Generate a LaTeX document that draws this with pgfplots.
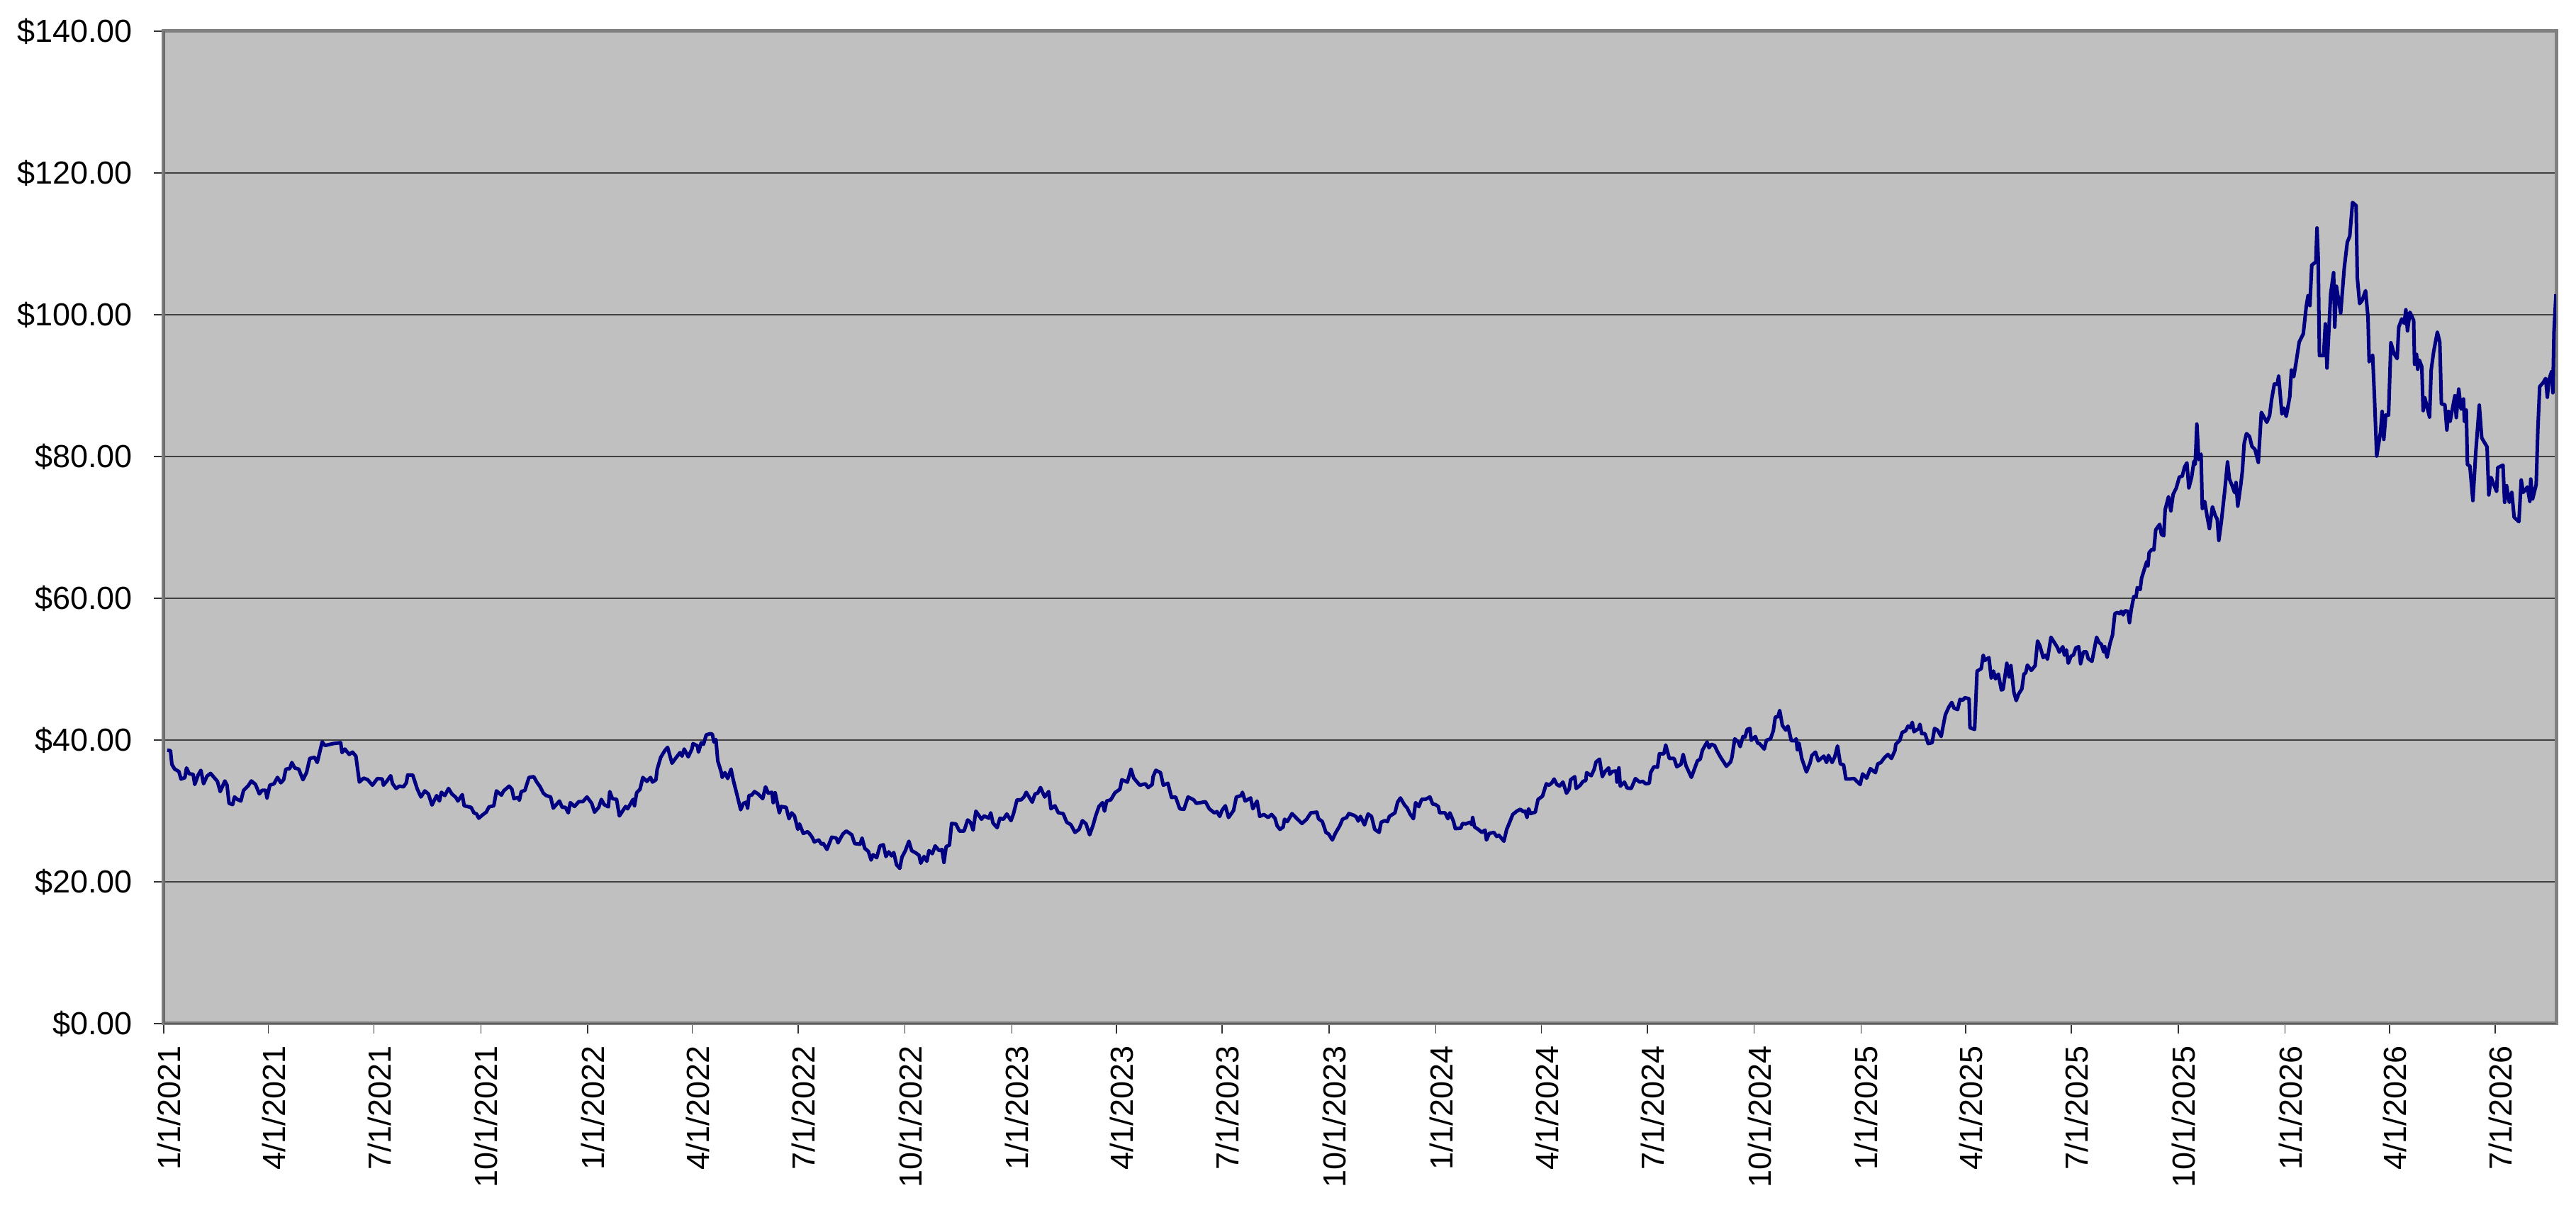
\documentclass[border=0pt]{standalone}
\usepackage{pgfplots}
\pgfplotsset{compat=1.18}
\usepackage{pgfplotstable}
\usepackage{fontspec}
\setmainfont{Liberation Sans}
\definecolor{plotbg}{HTML}{C0C0C0}
\definecolor{navyline}{HTML}{000080}
\pgfplotstableread{
day price
3.0 38.57
5.8 38.50
7.0 36.57
9.4 35.90
13.0 35.57
14.9 34.50
18.2 34.70
19.6 36.07
22.0 35.23
25.3 35.17
26.7 33.73
29.6 35.07
32.0 35.73
34.3 33.83
37.2 34.90
40.3 35.30
43.8 34.63
46.2 34.17
48.6 32.73
52.6 34.23
54.5 33.63
56.2 31.07
59.3 30.90
60.9 31.97
63.3 31.63
66.4 31.40
68.7 32.90
72.8 33.57
75.4 34.23
79.0 33.73
82.3 32.40
84.6 32.90
87.7 32.90
88.9 31.83
91.3 33.63
94.9 33.83
97.9 34.73
100.8 33.97
103.2 34.40
105.1 35.90
108.4 35.97
110.3 36.83
112.7 36.07
116.2 35.90
119.8 34.40
122.9 35.40
125.7 37.40
129.8 37.57
132.1 36.83
136.4 39.73
138.8 39.23
145.9 39.50
152.3 39.63
153.5 38.23
155.9 38.73
159.7 37.97
162.5 38.30
165.4 37.73
168.4 34.07
172.0 34.63
175.6 34.40
179.6 33.63
183.9 34.57
188.1 34.50
189.1 33.63
192.2 34.23
195.3 34.97
197.0 33.83
200.0 33.17
202.9 33.50
206.4 33.40
208.8 33.97
210.0 35.07
214.3 35.07
218.3 33.07
221.4 31.97
224.7 32.83
227.8 32.40
230.9 30.83
234.9 32.17
237.3 31.40
239.0 32.63
242.0 32.17
245.1 33.17
248.0 32.40
251.5 31.90
253.2 31.40
257.0 32.30
258.6 30.73
264.6 30.50
267.0 29.73
269.3 29.57
271.2 28.97
274.1 29.40
277.6 29.83
280.0 30.57
284.1 30.73
286.4 32.83
290.7 32.23
292.6 32.83
297.3 33.50
299.7 33.07
301.4 31.73
305.0 31.90
306.1 31.50
307.8 32.73
310.9 32.90
314.4 34.73
318.5 34.83
321.1 34.07
324.0 33.40
326.8 32.50
329.2 32.17
333.0 31.97
335.3 30.40
340.6 31.40
343.0 30.50
345.8 30.50
348.2 29.73
350.0 31.17
353.6 30.63
357.2 31.30
360.7 31.30
364.3 31.97
368.4 31.07
370.8 29.83
374.4 30.50
376.7 31.63
379.1 30.90
382.7 30.57
383.9 32.73
386.2 31.73
389.8 31.63
392.2 29.30
397.6 30.63
399.3 30.30
404.0 31.63
405.2 30.73
407.1 32.57
410.0 33.07
412.4 34.73
415.9 34.17
419.0 34.73
420.7 34.07
423.7 34.40
424.7 35.83
427.8 37.57
431.3 38.50
433.7 38.97
437.5 36.73
439.7 37.23
444.4 38.23
446.1 37.73
448.0 38.73
451.5 37.63
454.6 38.73
455.6 39.50
459.4 39.17
460.3 38.30
462.7 39.63
464.6 39.40
467.0 40.73
470.5 40.90
472.2 40.83
473.6 39.73
475.3 40.07
476.9 37.07
480.0 35.40
480.7 34.73
483.1 35.40
485.5 34.57
488.3 35.90
490.2 34.40
494.3 31.73
496.6 30.17
499.0 31.07
501.4 31.23
502.6 30.40
503.7 32.17
506.1 32.23
508.5 32.73
511.6 32.40
515.6 31.73
518.0 33.40
520.4 32.50
523.5 32.63
524.6 31.17
526.3 32.57
529.9 29.73
531.5 30.63
535.8 30.50
538.2 28.90
540.5 29.73
542.9 29.30
545.8 27.40
547.2 28.17
550.5 26.83
554.3 27.07
556.7 26.63
558.3 26.23
560.0 25.63
563.8 25.90
566.2 25.30
567.8 25.40
570.9 24.57
575.0 26.30
579.0 26.17
580.4 25.50
584.5 26.73
587.5 27.17
592.3 26.63
594.7 25.40
599.4 25.30
601.1 26.17
603.4 24.73
606.5 24.30
608.9 23.07
610.6 23.83
613.7 23.40
616.5 25.07
619.4 25.23
621.7 23.57
624.1 24.23
626.5 23.67
628.4 24.13
630.8 22.40
633.6 21.90
635.5 23.50
638.4 24.40
641.4 25.73
643.8 24.40
647.4 24.07
650.2 23.73
651.6 22.63
654.5 23.57
656.9 22.90
658.7 24.40
661.6 23.97
664.0 25.07
667.5 24.40
669.9 24.57
671.6 22.73
673.5 24.97
676.3 25.17
678.2 28.23
681.8 28.17
684.9 27.17
688.9 27.17
692.0 28.73
694.4 28.40
696.7 27.30
699.1 29.97
703.9 28.83
706.2 29.30
710.3 28.97
711.9 29.73
713.8 28.30
717.4 27.63
719.8 28.97
722.8 28.83
725.7 29.57
729.3 28.63
731.4 29.57
734.5 31.57
738.1 31.57
740.5 31.97
742.4 32.63
747.6 31.23
750.0 32.40
752.3 32.50
754.7 33.30
758.3 31.97
761.8 32.73
763.7 30.30
767.1 30.73
770.1 29.73
774.2 29.63
777.3 28.40
780.8 28.07
784.4 26.97
787.9 27.40
790.8 28.63
793.9 28.17
797.0 26.63
799.8 27.90
802.2 29.30
805.0 30.63
808.1 31.17
809.8 29.97
811.7 31.40
815.2 31.57
818.8 32.57
823.1 33.07
824.7 34.40
829.5 34.07
832.6 35.90
835.0 34.63
840.2 33.63
845.0 33.83
847.3 33.30
850.9 33.73
851.6 34.83
854.0 35.73
858.0 35.40
860.4 33.63
864.4 33.90
867.5 31.90
871.0 31.97
874.6 30.30
878.2 30.23
881.7 31.97
886.5 31.57
888.8 31.07
892.4 31.17
896.7 31.30
900.0 30.30
904.3 29.73
906.6 29.90
909.0 29.23
910.9 30.07
913.8 30.73
916.6 29.07
920.9 30.07
923.3 31.97
927.5 32.17
928.5 32.63
930.9 31.40
935.6 31.83
937.5 30.30
941.1 31.40
943.4 29.23
947.0 29.50
950.6 29.07
953.6 29.50
956.5 28.97
958.4 27.90
960.8 27.40
963.6 27.73
964.8 28.83
967.2 28.50
971.2 29.63
975.5 28.90
979.8 28.23
983.8 28.83
987.4 29.73
992.6 29.83
994.0 28.90
997.3 28.50
1000.4 26.97
1002.8 26.73
1005.9 25.90
1008.7 26.90
1012.3 27.90
1014.7 28.83
1018.2 29.07
1020.1 29.63
1024.2 29.40
1026.5 29.17
1028.2 28.57
1030.1 29.23
1033.6 28.03
1036.7 29.57
1039.6 29.23
1042.4 27.40
1046.2 26.97
1047.9 28.40
1051.0 28.63
1053.4 28.50
1055.0 29.23
1059.8 29.73
1062.1 31.23
1064.5 31.83
1068.1 30.83
1070.4 30.40
1072.8 29.57
1075.7 28.90
1077.6 31.17
1080.4 30.60
1082.8 31.63
1085.9 31.63
1089.9 31.97
1092.3 30.97
1094.7 30.90
1097.1 30.63
1098.3 29.73
1103.0 29.73
1105.4 28.90
1107.1 29.73
1110.1 28.57
1111.8 27.50
1116.5 27.57
1118.0 28.23
1120.8 28.17
1124.4 28.40
1126.0 28.07
1126.7 29.07
1128.4 27.73
1131.5 27.40
1134.6 26.97
1137.4 27.30
1138.6 25.90
1141.0 26.83
1145.0 26.97
1147.4 26.40
1149.3 26.57
1153.6 25.73
1156.0 27.40
1158.8 28.50
1161.2 29.50
1164.7 29.97
1167.8 30.23
1170.2 29.90
1171.9 29.97
1173.5 29.07
1174.9 30.30
1176.6 29.63
1180.6 29.83
1183.0 31.63
1186.8 32.07
1188.5 32.97
1190.1 33.83
1192.5 33.63
1194.9 33.97
1196.8 34.50
1199.2 33.73
1201.5 33.50
1204.4 34.07
1207.5 32.50
1209.8 33.07
1211.0 34.40
1214.6 34.83
1215.8 33.17
1219.3 33.63
1221.7 34.17
1224.1 34.30
1224.8 35.40
1228.8 34.97
1231.2 35.83
1232.9 36.90
1235.9 37.30
1238.3 34.83
1240.7 35.57
1243.8 36.07
1244.7 35.17
1247.1 35.57
1250.2 35.63
1250.9 34.07
1252.6 36.07
1253.8 33.50
1257.3 34.07
1259.7 33.23
1263.2 33.17
1266.8 34.57
1270.4 34.07
1273.2 34.17
1275.6 33.83
1278.7 33.90
1279.9 35.40
1282.7 36.23
1285.8 36.17
1287.5 38.07
1291.3 38.07
1292.9 39.30
1296.0 37.40
1300.1 37.40
1302.4 36.23
1306.0 36.57
1307.9 37.97
1310.3 36.40
1313.1 35.40
1315.0 34.73
1317.4 35.83
1320.2 37.07
1322.6 37.30
1324.5 38.57
1328.5 39.73
1330.2 38.90
1332.1 39.40
1334.9 39.23
1337.3 38.40
1340.4 37.50
1343.5 36.73
1345.1 36.30
1348.7 36.90
1349.9 37.57
1352.3 40.17
1355.3 39.73
1357.0 39.07
1359.4 40.50
1361.1 40.40
1363.0 41.50
1365.3 41.63
1366.5 39.97
1370.1 40.50
1372.0 39.57
1373.6 39.50
1377.7 38.73
1379.6 39.97
1383.1 40.17
1385.5 41.30
1387.2 43.23
1389.5 43.30
1391.0 44.17
1393.3 42.07
1396.2 41.40
1398.1 41.97
1401.0 39.90
1403.8 39.90
1405.2 40.17
1406.2 38.63
1407.6 39.57
1410.0 37.40
1414.0 35.50
1417.1 36.73
1418.7 37.83
1421.8 38.30
1424.2 37.07
1429.0 37.73
1431.3 36.83
1433.0 37.83
1436.1 36.83
1438.4 37.63
1440.8 39.17
1443.2 36.63
1446.0 36.50
1448.0 34.50
1450.8 34.50
1455.1 34.57
1457.4 34.17
1460.3 33.73
1462.4 35.23
1465.9 34.63
1469.0 35.97
1473.4 35.40
1475.4 36.63
1478.1 36.83
1481.1 37.50
1484.2 37.97
1487.2 37.40
1490.3 38.57
1490.9 39.40
1494.4 39.97
1496.4 41.07
1499.4 41.30
1501.5 41.97
1503.5 41.73
1505.1 42.50
1506.6 41.17
1510.6 41.63
1511.7 42.23
1513.3 40.90
1516.1 40.90
1518.8 39.50
1522.2 39.63
1524.3 41.63
1526.9 41.40
1530.0 40.50
1531.6 41.90
1533.6 43.57
1536.5 44.63
1539.1 45.30
1541.1 44.50
1544.2 44.30
1546.2 45.73
1548.7 45.63
1550.3 45.97
1554.0 45.83
1554.8 41.73
1558.8 41.50
1560.9 49.73
1564.5 50.07
1566.2 51.97
1567.6 51.23
1571.1 51.63
1573.1 48.73
1575.1 49.73
1576.7 48.63
1579.2 49.30
1581.8 47.07
1583.3 47.17
1586.5 50.83
1588.5 48.90
1590.0 50.50
1592.6 46.73
1594.6 45.57
1596.7 46.50
1599.5 47.23
1601.2 49.30
1602.8 49.50
1604.2 50.57
1607.6 49.83
1610.9 50.50
1613.0 53.97
1615.0 53.30
1617.8 51.63
1619.9 51.97
1621.5 51.40
1624.5 54.50
1626.6 53.97
1630.0 53.07
1631.7 52.40
1634.7 53.17
1636.1 51.97
1637.8 52.73
1639.4 50.83
1641.8 51.83
1643.9 52.00
1645.9 53.00
1648.4 53.17
1650.0 50.77
1652.4 52.43
1655.1 52.43
1656.5 51.50
1659.8 51.10
1663.8 54.50
1665.9 53.77
1667.9 53.50
1669.9 52.43
1670.7 53.17
1672.8 51.67
1675.4 53.67
1677.5 54.83
1679.5 57.83
1681.5 58.00
1683.6 57.83
1685.0 58.17
1686.6 57.67
1688.2 58.23
1690.7 58.17
1692.1 56.57
1693.7 58.50
1695.8 60.23
1697.8 60.23
1698.8 61.50
1701.3 61.23
1702.5 62.83
1704.9 64.10
1707.0 65.17
1708.0 64.57
1709.0 66.43
1711.4 66.90
1713.1 66.83
1714.7 69.67
1718.1 70.43
1719.6 69.00
1721.6 68.83
1722.8 72.50
1725.7 74.33
1727.7 72.33
1729.7 74.67
1732.4 75.57
1735.0 77.10
1737.5 77.23
1739.5 78.50
1741.5 79.10
1743.2 75.57
1745.6 77.10
1747.6 79.33
1748.7 78.90
1750.1 84.57
1751.7 79.57
1753.7 80.33
1754.8 72.67
1756.8 73.67
1758.8 71.67
1760.9 69.83
1763.5 72.90
1765.9 71.67
1767.6 71.17
1769.0 68.17
1771.0 70.57
1774.1 75.17
1776.5 79.23
1778.1 76.83
1780.6 75.83
1782.6 74.90
1783.8 76.33
1785.3 73.00
1787.9 76.00
1789.3 78.00
1790.8 81.83
1792.8 83.23
1795.4 82.83
1797.5 81.43
1800.1 81.00
1803.0 79.17
1805.6 86.23
1808.3 85.43
1810.3 84.83
1812.7 85.77
1814.4 88.00
1816.8 90.23
1819.2 90.17
1820.5 91.33
1823.3 86.00
1825.0 86.83
1827.0 85.66
1830.1 88.46
1831.5 92.20
1833.5 91.26
1835.6 93.36
1838.2 96.15
1841.7 97.31
1844.3 101.22
1845.8 102.69
1847.4 101.29
1849.0 106.99
1852.5 107.45
1853.5 112.24
1854.5 108.22
1855.6 94.23
1859.2 94.23
1860.7 98.71
1862.1 92.48
1865.3 102.97
1867.8 105.94
1868.8 98.25
1870.2 104.02
1873.9 100.24
1877.0 106.64
1879.6 110.24
1881.7 111.08
1884.1 115.84
1887.2 115.38
1888.2 105.24
1890.2 101.57
1892.3 101.99
1895.3 103.39
1897.4 99.65
1898.4 93.36
1901.4 94.30
1902.9 88.64
1904.9 80.07
1908.2 83.46
1909.6 86.36
1911.0 82.41
1912.7 85.84
1915.1 85.84
1917.1 96.05
1919.8 94.51
1922.5 93.81
1923.9 98.25
1926.5 99.41
1928.6 98.78
1930.0 100.70
1931.4 97.73
1933.5 100.35
1936.7 99.20
1937.5 93.01
1939.2 94.41
1940.2 92.31
1941.6 93.60
1943.7 92.66
1944.9 86.47
1946.3 88.29
1950.4 85.56
1951.8 92.20
1953.9 94.76
1957.1 97.55
1959.2 96.15
1960.6 87.41
1963.6 87.31
1965.3 83.74
1966.7 86.36
1968.1 84.97
1972.2 88.57
1973.4 85.49
1975.5 89.51
1977.5 86.71
1979.6 88.11
1980.4 84.97
1982.0 86.54
1983.0 78.85
1985.1 78.67
1987.7 73.78
1990.2 80.66
1993.2 87.24
1995.3 82.62
1999.9 81.36
2001.4 74.58
2003.4 77.03
2005.5 76.12
2008.1 75.07
2009.1 78.43
2013.6 78.78
2015.0 73.53
2016.7 75.87
2019.1 73.53
2021.2 74.93
2023.2 71.43
2027.3 70.80
2029.3 76.68
2031.0 74.93
2034.6 75.70
2036.7 73.67
2037.5 76.82
2039.1 74.02
2042.2 76.05
2043.6 83.74
2045.2 89.86
2048.3 90.45
2050.3 91.01
2051.8 88.36
2053.0 90.73
2055.4 91.96
2056.5 88.99
2057.5 97.55
2059.2 102.90
}\pricetable
\begin{document}
\begin{tikzpicture}
\begin{axis}[
  at={(0,0)}, anchor=south west,
  width=675pt, height=280pt, scale only axis,
  xmin=0, xmax=2059.4, ymin=0, ymax=140,
  axis background/.style={fill=plotbg},
  axis line style={draw=gray, line width=1pt},
  ytick={0,20,40,60,80,100,120,140},
  yticklabels={\$0.00,\$20.00,\$40.00,\$60.00,\$80.00,\$100.00,\$120.00,\$140.00},
  xtick={0,90,181,273,365,455,546,638,730,820,911,1003,1095,1186,1277,1369,1461,1551,1642,1734,1826,1916,2007},
  xticklabels={1/1/2021,4/1/2021,7/1/2021,10/1/2021,1/1/2022,4/1/2022,7/1/2022,10/1/2022,1/1/2023,4/1/2023,7/1/2023,10/1/2023,1/1/2024,4/1/2024,7/1/2024,10/1/2024,1/1/2025,4/1/2025,7/1/2025,10/1/2025,1/1/2026,4/1/2026,7/1/2026},
  tick align=outside, major tick length=2.8pt,
  tick style={draw=black!80, line width=0.3pt},
  xtick pos=bottom, ytick pos=left,
  ymajorgrids, grid style={draw=black!75, line width=0.4pt},
  xticklabel style={rotate=90, anchor=east, font=\fontsize{9}{10.8}\selectfont, yshift=-1.5pt},
  yticklabel style={anchor=east, font=\fontsize{9}{10.8}\selectfont, xshift=-2.5pt},
  /pgf/number format/assume math mode=true,
]
\addplot[navyline, line width=1.0pt, no marks, line join=round] table[x=day, y=price] {\pricetable};
\draw[black!70, line width=0.5pt] (rel axis cs:0,1) -- (rel axis cs:0,0) -- (rel axis cs:1,0);
\end{axis}
\path (-46.2pt,-58.6pt) rectangle (680.6pt,288.8pt);
\end{tikzpicture}
\end{document}
